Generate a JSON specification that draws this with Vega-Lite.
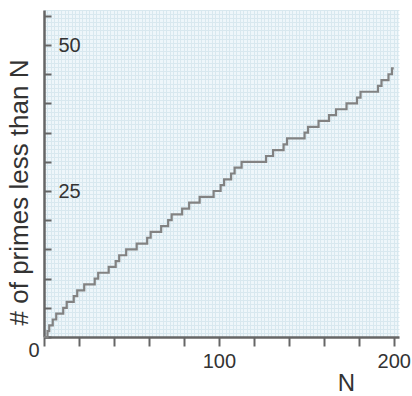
{
  "$schema": "https://vega.github.io/schema/vega-lite/v6.json",
  "width": 355,
  "height": 327,
  "autosize": "none",
  "padding": {"left": 44, "top": 10, "right": 13, "bottom": 59},
  "background": "white",
  "config": {"view": {"fill": "#eef6fa", "stroke": null}, "font": "Liberation Sans"},
  "data": {"values": [
    {"n": 0, "p": 0}, {"n": 2, "p": 1}, {"n": 3, "p": 2}, {"n": 5, "p": 3}, {"n": 7, "p": 4},
    {"n": 11, "p": 5}, {"n": 13, "p": 6}, {"n": 17, "p": 7}, {"n": 19, "p": 8}, {"n": 23, "p": 9},
    {"n": 29, "p": 10}, {"n": 31, "p": 11}, {"n": 37, "p": 12}, {"n": 41, "p": 13}, {"n": 43, "p": 14},
    {"n": 47, "p": 15}, {"n": 53, "p": 16}, {"n": 59, "p": 17}, {"n": 61, "p": 18}, {"n": 67, "p": 19},
    {"n": 71, "p": 20}, {"n": 73, "p": 21}, {"n": 79, "p": 22}, {"n": 83, "p": 23}, {"n": 89, "p": 24},
    {"n": 97, "p": 25}, {"n": 101, "p": 26}, {"n": 103, "p": 27}, {"n": 107, "p": 28}, {"n": 109, "p": 29},
    {"n": 113, "p": 30}, {"n": 127, "p": 31}, {"n": 131, "p": 32}, {"n": 137, "p": 33}, {"n": 139, "p": 34},
    {"n": 149, "p": 35}, {"n": 151, "p": 36}, {"n": 157, "p": 37}, {"n": 163, "p": 38}, {"n": 167, "p": 39},
    {"n": 173, "p": 40}, {"n": 179, "p": 41}, {"n": 181, "p": 42}, {"n": 191, "p": 43}, {"n": 193, "p": 44},
    {"n": 197, "p": 45}, {"n": 199, "p": 46}, {"n": 200, "p": 46}
  ]},
  "resolve": {"axis": {"x": "independent", "y": "independent"}},
  "layer": [
    {
      "mark": {"type": "line", "opacity": 0},
      "encoding": {
        "x": {"field": "n", "type": "quantitative", "scale": {"domain": [0, 203], "nice": false},
          "axis": {"orient": "top", "tickCount": 100, "grid": true, "gridColor": "#d8e8ef", "gridWidth": 1, "gridOpacity": 1,
            "labels": false, "ticks": false, "domain": false, "title": null}},
        "y": {"field": "p", "type": "quantitative", "scale": {"domain": [0, 56], "nice": false},
          "axis": {"orient": "right", "grid": true, "gridColor": "#d8e8ef", "gridWidth": 1, "gridOpacity": 1,
            "labels": false, "ticks": false, "domain": false, "title": null,
            "values": [0,0.7,1.4,2.1,2.8,3.5,4.2,4.9,5.6,6.3,7,7.7,8.4,9.1,9.8,10.5,11.2,11.9,12.6,13.3,14,14.7,15.4,16.1,16.8,17.5,18.2,18.9,19.6,20.3,21,21.7,22.4,23.1,23.8,24.5,25.2,25.9,26.6,27.3,28,28.7,29.4,30.1,30.8,31.5,32.2,32.9,33.6,34.3,35,35.7,36.4,37.1,37.8,38.5,39.2,39.9,40.6,41.3,42,42.7,43.4,44.1,44.8,45.5,46.2,46.9,47.6,48.3,49,49.7,50.4,51.1,51.8,52.5,53.2,53.9,54.6,55.3,56]}}
      }
    },
    {
      "mark": {"type": "line", "interpolate": "step-after", "color": "#828282", "strokeWidth": 2.2},
      "encoding": {
        "x": {"field": "n", "type": "quantitative", "scale": {"domain": [0, 203], "nice": false},
          "axis": {"orient": "bottom", "grid": false,
            "values": [0, 20, 40, 60, 80, 100, 120, 140, 160, 180, 200],
            "labelExpr": "datum.value == 0 || datum.value == 100 || datum.value == 200 ? datum.label : ''",
            "tickSize": 9, "tickColor": "#666666", "tickWidth": 2,
            "domainColor": "#666666", "domainWidth": 2.5,
            "labelFontSize": 20, "labelColor": "#333333", "labelFlush": false, "labelOverlap": false,
            "labelBaseline": "top",
            "labelPadding": {"condition": {"test": "datum.value == 0", "value": -6}, "value": 5},
            "labelAlign": {"condition": {"test": "datum.value == 0", "value": "right"}, "value": "center"},
            "labelOffset": {"condition": {"test": "datum.value == 0", "value": -5}, "value": 0},
            "title": "N", "titleFontSize": 24, "titleFontWeight": "normal", "titleColor": "#333333",
            "titleX": 302, "titleY": 46, "titleAlign": "center", "titleBaseline": "middle"}},
        "y": {"field": "p", "type": "quantitative", "scale": {"domain": [0, 56], "nice": false},
          "axis": {"orient": "left", "grid": false,
            "values": [0, 5, 10, 15, 20, 25, 30, 35, 40, 45, 50, 55],
            "labelExpr": "datum.value == 25 || datum.value == 50 ? datum.label : ''",
            "tickSize": -7, "tickColor": "#666666", "tickWidth": 2,
            "domainColor": "#666666", "domainWidth": 2.5,
            "labelFontSize": 20, "labelColor": "#333333", "labelAlign": "left", "labelBaseline": "middle",
            "labelPadding": -7, "labelFlush": false, "labelOverlap": false,
            "title": "# of primes less than N", "titleFontSize": 26, "titleFontWeight": "normal", "titleColor": "#333333",
            "titleAngle": -90, "titleX": -25, "titleY": 182, "titleAlign": "center", "titleBaseline": "middle"}}
      }
    }
  ]
}
